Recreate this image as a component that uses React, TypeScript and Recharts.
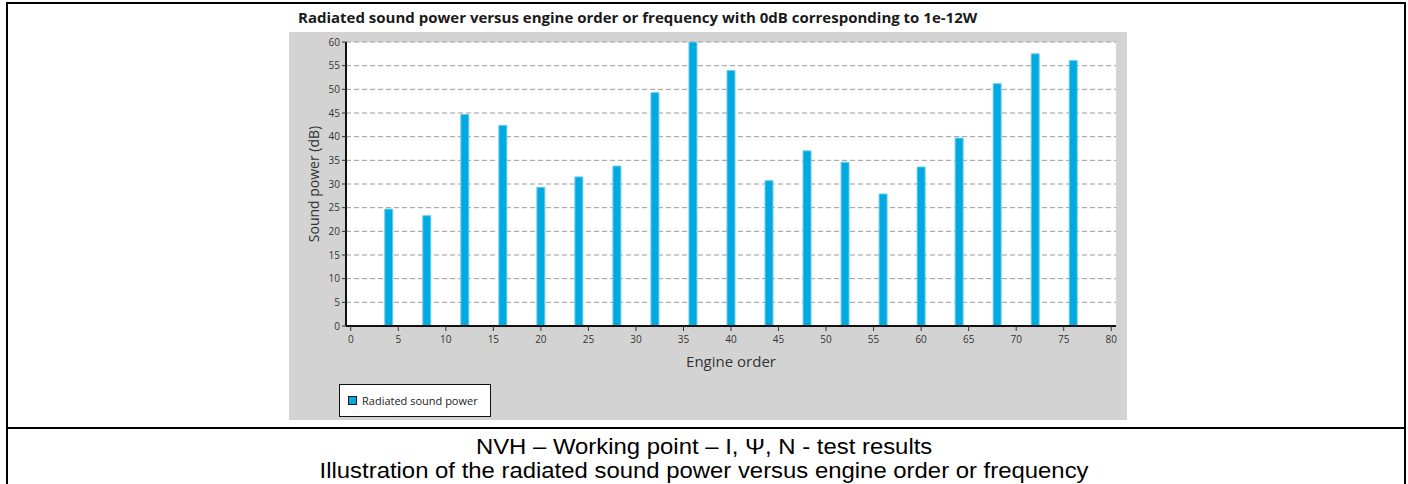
import React from 'react'
import {
  Bar,
  BarChart,
  CartesianGrid,
  Legend,
  XAxis,
  YAxis,
} from 'recharts'

// engine orders (x) and radiated sound power in dB (y)
const orders = [4, 8, 12, 16, 20, 24, 28, 32, 36, 40, 44, 48, 52, 56, 60, 64, 68, 72, 76]
const powerDb = [
  24.7, 23.3, 44.7, 42.4, 29.3, 31.5, 33.8, 49.3, 60, 54.0, 30.7, 37.0, 34.6,
  27.9, 33.6, 39.7, 51.2, 57.5, 56.1,
]
const xTicks = [0, 5, 10, 15, 20, 25, 30, 35, 40, 45, 50, 55, 60, 65, 70, 75, 80]
const yTicks = [0, 5, 10, 15, 20, 25, 30, 35, 40, 45, 50, 55, 60]

const title =
  'Radiated sound power versus engine order or frequency with 0dB corresponding to 1e-12W'
const captionLines = [
  'NVH – Working point – I, Ψ, N - test results',
  'Illustration of the radiated sound power versus engine order or frequency',
]
const seriesName = 'Radiated sound power'

const data = orders.map((order, i) => ({ order, power: powerDb[i] }))

const BLUE = '#00a9e0'
const tickStyle = { fontSize: 10, fill: '#333', fontFamily: 'Open Sans' }

function LegendBox() {
  return (
    <div
      style={{
        boxSizing: 'border-box',
        width: 152,
        height: 33,
        background: '#fff',
        border: '1px solid #111',
        display: 'flex',
        alignItems: 'center',
        paddingLeft: 8,
        fontFamily: 'Open Sans',
        fontSize: 11,
        color: '#222',
      }}
    >
      <span
        style={{
          display: 'inline-block',
          boxSizing: 'border-box',
          width: 9,
          height: 9,
          background: BLUE,
          border: '1px solid #1a1a1a',
          marginRight: 5,
        }}
      />
      {seriesName}
    </div>
  )
}

export default function App() {
  return (
    <div
      style={{
        position: 'fixed',
        left: 0,
        top: 0,
        width: 1408,
        height: 484,
        background: '#fff',
        overflow: 'hidden',
      }}
    >
      {/* table borders */}
      <div style={{ position: 'absolute', left: 6, top: 2, width: 1400, height: 2, background: '#000' }} />
      <div style={{ position: 'absolute', left: 6, top: 2, width: 2, height: 482, background: '#000' }} />
      <div style={{ position: 'absolute', left: 1404, top: 2, width: 2, height: 482, background: '#000' }} />
      <div style={{ position: 'absolute', left: 6, top: 427, width: 1400, height: 2, background: '#000' }} />

      <div
        style={{
          position: 'absolute',
          left: 298,
          top: 6,
          fontFamily: 'Open Sans',
          fontWeight: 700,
          fontSize: 15,
          lineHeight: '22px',
          color: '#1a1a1a',
          whiteSpace: 'nowrap',
        }}
      >
        {title}
      </div>

      <div style={{ position: 'absolute', left: 289, top: 32 }}>
        <BarChart
          width={838}
          height={388}
          data={data}
          margin={{ top: 10, right: 11, left: 0, bottom: 3 }}
          style={{ background: '#d3d3d3' }}
        >
          <CartesianGrid
            vertical={false}
            fill="#fff"
            stroke="#9a9a9a"
            strokeDasharray="5 3"
          />
          <XAxis
            dataKey="order"
            type="number"
            domain={[-0.5, 80.5]}
            ticks={xTicks}
            interval={0}
            height={58}
            tickSize={5}
            tickMargin={5}
            tick={tickStyle}
            tickLine={{ stroke: '#333' }}
            axisLine={{ stroke: '#111', strokeWidth: 2 }}
            label={{
              value: 'Engine order',
              position: 'insideBottom',
              offset: 17,
              fontSize: 15,
              fill: '#333',
              fontFamily: 'Open Sans',
            }}
          />
          <XAxis
            xAxisId="top"
            orientation="top"
            type="number"
            domain={[-0.5, 80.5]}
            height={0}
            tick={false}
            tickLine={false}
            axisLine={{ stroke: '#444', strokeWidth: 1.5 }}
          />
          <YAxis
            type="number"
            domain={[0, 60]}
            ticks={yTicks}
            interval={0}
            allowDataOverflow
            width={57}
            tickSize={4}
            tickMargin={2}
            tick={tickStyle}
            tickLine={{ stroke: '#333' }}
            axisLine={{ stroke: '#111', strokeWidth: 2 }}
            label={{
              value: 'Sound power (dB)',
              angle: -90,
              position: 'insideLeft',
              offset: 25,
              fontSize: 14,
              fill: '#333',
              fontFamily: 'Open Sans',
              style: { textAnchor: 'middle' },
            }}
          />
          <YAxis
            yAxisId="right"
            orientation="right"
            type="number"
            domain={[0, 60]}
            width={0}
            tick={false}
            tickLine={false}
            axisLine={{ stroke: '#444', strokeWidth: 1.5 }}
          />
          <Legend
            verticalAlign="bottom"
            align="left"
            content={() => <LegendBox />}
            wrapperStyle={{ left: 50, bottom: 3, width: 152 }}
          />
          <Bar
            dataKey="power"
            name={seriesName}
            fill={BLUE}
            stroke="#6fcdef"
            strokeWidth={1}
            barSize={8}
            isAnimationActive={false}
          />
        </BarChart>
      </div>

      {captionLines.map((line, i) => (
        <div
          key={line}
          style={{
            position: 'absolute',
            left: 0,
            width: 1408,
            top: 435 + i * 24,
            textAlign: 'center',
            fontFamily: 'Liberation Sans, Arial',
            fontSize: 22,
            lineHeight: '24px',
            color: '#000',
            whiteSpace: 'nowrap',
          }}
        >
          <span style={{ display: 'inline-block', transform: 'scaleX(1.086)' }}>{line}</span>
        </div>
      ))}
    </div>
  )
}
